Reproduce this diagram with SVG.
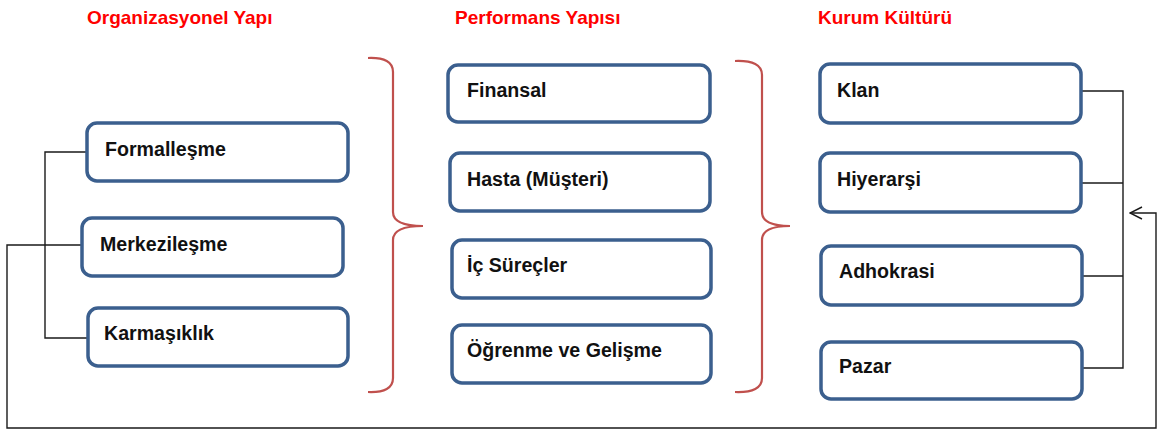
<svg xmlns="http://www.w3.org/2000/svg" width="1160" height="430" viewBox="0 0 1160 430">
  <style>
    .title { font-family: "Liberation Sans", Arial, sans-serif; font-weight: bold; font-size: 19px; fill: #ff0000; }
    .box { fill: #ffffff; stroke: #3b5f8e; stroke-width: 3.5; }
    .label { font-family: "Liberation Sans", Arial, sans-serif; font-weight: bold; font-size: 19.6px; fill: #111111; }
    .brace { fill: none; stroke: #c0504d; stroke-width: 2.2; }
    .wire { fill: none; stroke: #1a1a1a; stroke-width: 1.4; }
  </style>
  <defs>
    <marker id="open-arrow" viewBox="0 0 14 14" refX="13" refY="7" markerWidth="14" markerHeight="14" markerUnits="userSpaceOnUse" orient="auto">
      <path d="M1,1 L13,7 L1,13" fill="none" stroke="#1a1a1a" stroke-width="1.4"/>
    </marker>
  </defs>

  <rect width="1160" height="430" fill="#ffffff"/>

  <!-- Column headings -->
  <text class="title" x="87" y="24">Organizasyonel Yapı</text>
  <text class="title" x="455" y="24">Performans Yapısı</text>
  <text class="title" x="818" y="24">Kurum Kültürü</text>

  <!-- Curly braces between columns -->
  <g id="braces">
    <path class="brace" d="M368,58 Q393,57 393,72 L393,212 Q393,226 423,226 Q393,226 393,240 L393,378 Q393,393 368,392"/>
    <path class="brace" d="M735,61 Q762,60 762,75 L762,212 Q762,226 790,226 Q762,226 762,240 L762,378 Q762,393 735,392"/>
  </g>

  <!-- Connectors -->
  <g id="connectors">
    <!-- left bracket joining Formalleşme and Karmaşıklık -->
    <path class="wire" d="M87,152 H45 V338 H88"/>
    <!-- right bracket joining the culture boxes -->
    <path class="wire" d="M1081,91 H1123 V368 H1082"/>
    <path class="wire" d="M1081,183 H1123"/>
    <path class="wire" d="M1082,276 H1123"/>
    <!-- feedback loop from Merkezileşme round to the culture bracket -->
    <path class="wire" d="M82,245 H7 V428 H1156 V213 H1130" marker-end="url(#open-arrow)"/>
  </g>

  <!-- Organizasyonel Yapı -->
  <g id="node-formallesme">
    <rect class="box" x="87" y="123" width="261" height="58" rx="10"/>
    <text class="label" x="105" y="156">Formalleşme</text>
  </g>
  <g id="node-merkezilesme">
    <rect class="box" x="82" y="218" width="261" height="58" rx="10"/>
    <text class="label" x="100" y="251">Merkezileşme</text>
  </g>
  <g id="node-karmasiklik">
    <rect class="box" x="88" y="308" width="260" height="58" rx="10"/>
    <text class="label" x="104" y="340">Karmaşıklık</text>
  </g>

  <!-- Performans Yapısı -->
  <g id="node-finansal">
    <rect class="box" x="448" y="65" width="262" height="57" rx="10"/>
    <text class="label" x="467" y="97">Finansal</text>
  </g>
  <g id="node-hasta">
    <rect class="box" x="450" y="153" width="260" height="58" rx="10"/>
    <text class="label" x="467" y="186">Hasta (Müşteri)</text>
  </g>
  <g id="node-ic-surecler">
    <rect class="box" x="452" y="240" width="259" height="58" rx="10"/>
    <text class="label" x="467" y="272">İç Süreçler</text>
  </g>
  <g id="node-ogrenme">
    <rect class="box" x="452" y="325" width="259" height="58" rx="10"/>
    <text class="label" x="467" y="357">Öğrenme ve Gelişme</text>
  </g>

  <!-- Kurum Kültürü -->
  <g id="node-klan">
    <rect class="box" x="820" y="64" width="261" height="59" rx="10"/>
    <text class="label" x="837" y="97">Klan</text>
  </g>
  <g id="node-hiyerarsi">
    <rect class="box" x="820" y="153" width="261" height="59" rx="10"/>
    <text class="label" x="837" y="186">Hiyerarşi</text>
  </g>
  <g id="node-adhokrasi">
    <rect class="box" x="821" y="246" width="261" height="59" rx="10"/>
    <text class="label" x="839" y="278">Adhokrasi</text>
  </g>
  <g id="node-pazar">
    <rect class="box" x="821" y="342" width="261" height="57" rx="10"/>
    <text class="label" x="839" y="373">Pazar</text>
  </g>
</svg>
